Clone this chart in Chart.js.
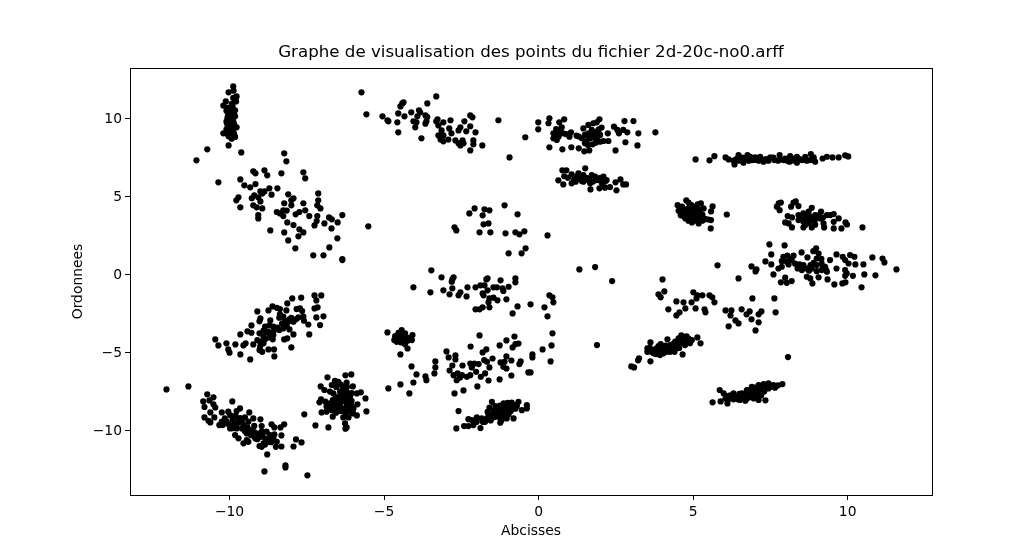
<!DOCTYPE html>
<html>
<head>
<meta charset="utf-8">
<title>2d-20c-no0</title>
<script src="https://cdn.jsdelivr.net/npm/chart.js@4/dist/chart.umd.min.js"></script>
<style>
  html, body { margin: 0; padding: 0; background: #fff; }
  canvas { display: block; }
</style>
</head>
<body>
<canvas id="chart" width="1036" height="556"></canvas>
<script>
// --- DATA ([abcisse, ordonnee]) ---
const titleText = 'Graphe de visualisation des points du fichier 2d-20c-no0.arff';
const xLabel = 'Abcisses';
const yLabel = 'Ordonnees';
const xTickValues = [-10, -5, 0, 5, 10];
const yTickValues = [-10, -5, 0, 5, 10];

const pillarTopLeft = [[-9.88,12.06],[-9.87,11.79],[-10.03,11.68],[-9.77,11.42],[-9.88,11.32],[-10.12,11.1],[-9.79,11.1],[-9.93,10.95],[-10.2,10.83],[-10.07,10.68],[-9.82,10.53],[-9.98,10.57],[-10.03,10.35],[-9.82,10.14],[-9.98,10.14],[-10.07,10.03],[-9.93,9.93],[-10.03,9.82],[-9.88,9.82],[-9.98,9.61],[-10.07,9.61],[-9.93,9.44],[-9.77,9.44],[-10.03,9.39],[-9.88,9.18],[-10.2,9.05],[-9.98,9.07],[-9.82,8.82],[-9.93,8.71],[-10.03,8.86],[-10.03,8.28],[-10,10.4],[-9.9,10.3],[-10.05,10.2],[-9.9,10.05],[-9.95,9.75],[-10.1,9.8],[-9.85,9.65],[-10,9.5],[-10.1,9.3],[-9.9,9.3],[-10,9.2],[-10.1,9.05],[-9.85,9],[-10,8.9],[-9.95,10.7],[-10.1,10.5],[-9.9,10.8],[-9.85,10.3]];

const diagonalUpperLeft = [[-10.72,8.03],[-11.07,7.32],[-9.62,7.83],[-10.36,5.91],[-8.23,7.77],[-8.16,7.26],[-9.23,6.62],[-9.16,6.49],[-8.87,6.68],[-8.78,6.36],[-8.32,6.49],[-7.61,6.55],[-7.55,6.17],[-9.65,6.1],[-9.52,5.72],[-9.33,5.59],[-9.16,5.8],[-8.71,5.53],[-8.45,5.53],[-9,5.33],[-8.87,5.33],[-8.94,5.2],[-8.64,5.12],[-8.1,5.14],[-7.13,5.2],[-9.71,4.95],[-9.78,4.76],[-9.2,5.08],[-9.28,4.89],[-9.07,4.95],[-9,4.69],[-7.93,4.89],[-8,4.76],[-8.23,4.57],[-8,4.44],[-7.61,4.57],[-7.13,4.76],[-7.16,4.44],[-7.06,4.24],[-9.65,4.31],[-9.23,4.44],[-9.12,4.31],[-8.94,4.24],[-8.26,4.12],[-8.15,4.1],[-8.47,4.01],[-7.74,4.01],[-7.55,4.12],[-9.07,3.81],[-9.07,3.6],[-8.37,3.92],[-8.26,3.75],[-7.86,3.86],[-7.42,3.75],[-7.16,3.75],[-6.78,3.66],[-6.69,3.54],[-6.35,3.81],[-8.13,3.34],[-7.93,3.17],[-7.18,3.43],[-7.25,3.15],[-6.93,3.28],[-6.5,3.34],[-6.7,2.96],[-7.74,2.9],[-7.61,2.7],[-8.68,2.83],[-8.23,2.7],[-7.77,2.45],[-8.1,2.19],[-6.51,2.32],[-6.77,1.74],[-7.87,1.68],[-7.29,1.23],[-6.96,1.23],[-6.35,0.99],[-6.35,0.93],[-5.51,3.09]];

const diagonalMidLeft = [[-7.25,-1.34],[-7.03,-1.34],[-7.97,-1.53],[-7.68,-1.48],[-7.19,-1.66],[-8.13,-1.85],[-8.61,-2.04],[-8.47,-2.13],[-8.37,-2.21],[-8.74,-2.3],[-9.1,-2.36],[-8.16,-2.3],[-7.83,-2.21],[-7.72,-2.17],[-7.65,-2.34],[-7.25,-2.17],[-7.15,-2.1],[-8.37,-2.55],[-8.26,-2.7],[-8.39,-2.77],[-8,-2.77],[-7.85,-2.87],[-7.77,-2.75],[-7.61,-2.7],[-7.59,-2.96],[-7.19,-2.75],[-6.96,-2.68],[-7.45,-3.2],[-7.07,-3.24],[-8.1,-3.02],[-7.93,-3.02],[-9,-2.81],[-9.03,-3],[-8.68,-2.94],[-9.29,-3.26],[-8.85,-3.34],[-8.71,-3.26],[-8.58,-3.34],[-8.15,-3.3],[-8.26,-3.45],[-8.39,-3.56],[-9.42,-3.64],[-9.29,-3.73],[-9.65,-3.84],[-9.03,-3.77],[-8.74,-3.67],[-8.64,-3.73],[-8.06,-3.52],[-7.93,-3.84],[-7.42,-3.84],[-8.9,-3.99],[-8.71,-4.03],[-8.58,-3.88],[-8.23,-4.16],[-8.13,-4.09],[-10.46,-4.16],[-10.36,-4.54],[-10.1,-4.41],[-9.81,-4.48],[-9.55,-4.54],[-9.48,-4.41],[-9.23,-4.48],[-9.01,-4.3],[-8.9,-4.41],[-9.01,-4.62],[-8,-4.67],[-10.04,-4.8],[-10,-5.01],[-9.65,-5.12],[-9.03,-4.84],[-8.94,-4.95],[-8.74,-4.8],[-8.56,-4.8],[-9.33,-5.44],[-8.55,-5.25],[-8.8,-3.7],[-8.9,-3.6],[-8.55,-3.55],[-8.45,-3.4],[-8.3,-3.15],[-8.2,-2.95],[-8.85,-4.15],[-9.1,-4.2],[-8.6,-4.15],[-8.05,-2.85]];

const bandBottomLeft = [[-12.04,-7.36],[-11.33,-7.17],[-10.72,-7.68],[-10.52,-7.87],[-10.65,-8.07],[-10.85,-8.13],[-10.52,-8.32],[-10.81,-8.49],[-10.46,-8.52],[-10.62,-8.84],[-10.25,-8.84],[-9.91,-8.13],[-10.49,-9.16],[-10.81,-9.16],[-10.68,-9.37],[-10.62,-9.48],[-10.04,-8.79],[-9.66,-8.58],[-9.77,-8.75],[-9.36,-8.84],[-9.98,-9.01],[-10.15,-9.22],[-9.88,-9.11],[-9.71,-9.33],[-10.25,-9.43],[-10.33,-9.65],[-10.04,-9.58],[-10.22,-9.65],[-9.88,-9.65],[-9.6,-9.43],[-9.39,-9.43],[-9.23,-9.22],[-9,-9.28],[-9.98,-9.86],[-9.77,-9.86],[-9.6,-9.86],[-9.42,-9.8],[-9.82,-10.29],[-9.71,-10.5],[-9.44,-10.18],[-9.34,-9.97],[-8.96,-9.71],[-8.64,-9.6],[-8.55,-9.8],[-8.35,-9.8],[-8.23,-9.6],[-8.8,-10.07],[-8.96,-10.07],[-8.32,-10.31],[-9.17,-10.5],[-9.44,-10.61],[-9.55,-10.82],[-9.39,-10.72],[-9,-10.4],[-8.85,-10.5],[-8.69,-10.29],[-8.58,-10.5],[-8.47,-10.72],[-8.9,-10.82],[-8.74,-10.72],[-9.03,-10.99],[-8.96,-11.04],[-8.5,-11.04],[-8.32,-11.02],[-7.93,-11.02],[-7.85,-10.57],[-7.67,-10.76],[-8.78,-11.53],[-8.87,-12.62],[-8.19,-12.23],[-8.19,-12.36],[-7.48,-12.87],[-9.9,-9.3],[-9.75,-9.55],[-9.55,-9.65],[-9.8,-9.05],[-9.5,-9.15],[-10.1,-9.4],[-9.9,-9.85],[-9.5,-10.05],[-9.2,-9.7],[-9.1,-10.2],[-8.95,-10.3],[-8.8,-10.65],[-8.65,-10.75],[-9.2,-10.1],[-9.1,-10.55],[-8.55,-10.25],[-9.3,-10.3],[-8.85,-10.9],[-8.65,-10.5],[-9.65,-9.2]];

const blobLowerLeft = [[-6.06,-6.4],[-6.25,-6.46],[-6.83,-6.59],[-6.21,-6.93],[-6.59,-6.81],[-6.48,-6.87],[-6.69,-7.08],[-7.05,-7.17],[-6.01,-7.17],[-6.93,-7.4],[-6.32,-7.19],[-5.75,-7.55],[-5.88,-7.62],[-5.6,-7.94],[-6.64,-7.62],[-6.42,-7.51],[-6.21,-7.51],[-6.1,-7.83],[-6.32,-7.83],[-6.48,-7.94],[-6.66,-8.05],[-7.04,-8],[-7.09,-8.19],[-6.75,-8.26],[-6.86,-8.47],[-6.42,-8.26],[-6.21,-8.26],[-6.05,-8.09],[-5.86,-8.32],[-5.99,-8.58],[-6.32,-8.58],[-6.53,-8.64],[-6.69,-8.69],[-7.02,-8.84],[-6.86,-8.79],[-6.1,-8.79],[-5.88,-9.03],[-5.57,-8.77],[-6.66,-9.11],[-6.32,-9.16],[-6.15,-9.16],[-6.26,-9.54],[-6.21,-9.8],[-6.25,-9.88],[-6.8,-9.8],[-7.22,-9.67],[-7.58,-8.96],[-6.4,-7.6],[-6.25,-7.7],[-6.55,-7.85],[-6.35,-8],[-6.15,-7.95],[-6.55,-8.2],[-6.3,-8.1],[-6.05,-8.4],[-6.7,-8.4],[-6.45,-8.45],[-6.2,-8.5],[-6.55,-8.85],[-6.4,-8.75],[-6.25,-8.85],[-6.15,-8.6],[-6.9,-8.15],[-6.35,-7.4],[-6.55,-7.2],[-6.4,-7.05],[-6.75,-7.5],[-6.2,-7.2],[-6.05,-7.6],[-6.6,-8.55],[-6,-8.9]];

const bandTopMiddle = [[-5.73,11.68],[-5.57,10.27],[-5.05,10.14],[-4.89,9.89],[-4.86,9.82],[-4.57,9.76],[-4.54,9.12],[-4.54,10.33],[-4.34,10.14],[-4.37,11.04],[-4.41,10.97],[-4.47,10.78],[-4.12,10.4],[-3.87,10.53],[-3.83,10.4],[-3.6,10.97],[-3.31,11.42],[-3.92,10.14],[-3.66,10.2],[-3.6,10.1],[-4.05,9.82],[-3.95,9.76],[-3.99,9.44],[-3.63,9.82],[-3.66,9.67],[-3.79,8.73],[-3.31,9.82],[-3.27,9.95],[-3.08,9.76],[-2.85,9.89],[-3.24,9.56],[-2.89,9.37],[-2.82,9.05],[-3.14,9.24],[-3.24,8.92],[-3.08,8.92],[-3.17,8.65],[-3.08,8.54],[-2.92,8.65],[-2.59,9.24],[-2.53,9.44],[-2.21,9.5],[-2.34,9.18],[-2.4,9.82],[-2.21,10.2],[-2.14,10.08],[-2.04,9.12],[-2.69,8.6],[-2.59,8.41],[-2.46,8.6],[-2.43,8.41],[-2.53,8.28],[-2.11,8.6],[-2.11,8.35],[-1.82,8.28],[-2.21,7.96],[-1.3,9.89],[-0.94,7.51],[-0.43,8.8]];

const sparseCentre = [[-1.1,4.44],[-2.07,4.24],[-1.75,4.18],[-1.59,4.12],[-2.24,3.92],[-1.81,3.8],[-0.68,3.86],[-1.78,3.22],[-1.62,3.28],[-2.72,3.03],[-2.66,2.83],[-1.91,2.71],[-1.56,2.71],[-1.07,2.64],[-0.75,2.71],[-0.62,2.58],[-0.46,2.77],[0.29,2.51],[-0.42,1.68],[-0.97,1.36],[-0.55,1.36]];

const stripCentre = [[-3.47,0.27],[-3.14,-0.18],[-2.75,-0.18],[-2.79,-0.31],[-2.81,-0.46],[-4.05,-0.82],[-3.5,-1.14],[-3.08,-1.01],[-2.79,-0.88],[-2.88,-1.27],[-2.53,-1.14],[-2.59,-1.33],[-2.3,-0.82],[-2.33,-1.4],[-2.04,-0.82],[-1.88,-0.69],[-1.75,-0.69],[-1.65,-0.24],[-1.69,-0.31],[-1.23,-0.37],[-0.75,-0.24],[-0.75,-0.5],[-1.65,-1.01],[-1.81,-1.2],[-1.78,-1.33],[-1.46,-0.82],[-1.35,-0.82],[-1.17,-0.88],[-0.97,-0.78],[-1.14,-1.05],[-1.59,-1.52],[-1.46,-1.48],[-1.33,-1.65],[-1.62,-1.78],[-1.04,-1.59],[-2.04,-2.23],[-1.91,-2.23],[-1.81,-2.1],[-1.59,-2.1],[-0.68,-2.04],[-0.26,-1.91],[-0.84,-2.49],[0.19,-2.1],[0.29,-2.68],[0.35,-1.33],[0.45,-1.46],[0.48,-1.78]];

const knotNearMinusFour = [[-4.89,-3.71],[-4.43,-3.56],[-4.53,-3.73],[-4.32,-3.77],[-4.08,-3.88],[-4.64,-3.95],[-4.48,-3.99],[-4.67,-4.2],[-4.53,-4.24],[-4.37,-4.2],[-4.1,-4.2],[-4.24,-4.24],[-4.59,-4.31],[-4.32,-4.46],[-4.24,-4.74],[-4.47,-5.12],[-4.6,-4.05],[-4.45,-4.15],[-4.4,-3.85],[-4.55,-3.85],[-4.3,-4.1],[-4.2,-4.05],[-4.45,-4.35],[-4.35,-4.35],[-4.5,-4.1],[-4.62,-4.15]];

const scatterLowerCentre = [[-4.11,-5.89],[-3.95,-6.4],[-3.66,-6.53],[-3.63,-6.77],[-4.05,-6.92],[-4.47,-7.04],[-4.86,-7.3],[-4.18,-7.62],[-3.34,-5.57],[-3.34,-5.95],[-3.37,-6.34],[-2.98,-4.93],[-2.91,-5.31],[-2.69,-5.18],[-2.69,-5.44],[-2.79,-5.83],[-2.88,-6.15],[-2.46,-5.83],[-2.2,-4.61],[-1.91,-3.9],[-1.26,-4.54],[-1.04,-4.22],[-0.78,-3.97],[-0.65,-4.42],[-0.75,-4.46],[-0.84,-4.67],[-1.69,-4.8],[-1.81,-4.99],[0.45,-3.77],[0.42,-4.54],[0.13,-4.8],[-0.2,-5.12],[-0.2,-5.31],[0.39,-5.57],[-1.49,-5.38],[-1.04,-5.25],[-0.88,-5.51],[-0.58,-5.57],[-0.62,-5.74],[-1.23,-5.63],[-1.1,-5.59],[-1.14,-5.91],[-1.04,-6.02],[-1.76,-5.48],[-1.67,-5.59],[-1.59,-5.95],[-2.21,-5.7],[-2.08,-5.7],[-1.94,-5.74],[-2.16,-5.95],[-2.02,-6.23],[-1.73,-6.34],[-1.87,-6.55],[-1.62,-6.79],[-1.26,-6.72],[-0.88,-6.47],[-0.33,-6.27],[-0.26,-6.27],[-2.75,-6.45],[-2.62,-6.34],[-2.48,-6.45],[-2.32,-6.55],[-2.21,-6.45],[-2.65,-6.77],[-2.54,-6.6],[-2.43,-7.43],[-2.72,-7.62],[-1.98,-7.17],[-2.59,-8.75],[-2.66,-9.86]];

const bandBottomCentre = [[-1.51,-8.16],[-1.59,-8.52],[-1.65,-8.8],[-1.4,-8.43],[-1.46,-8.73],[-1.3,-8.58],[-1.13,-8.26],[-1,-8.22],[-0.87,-8.2],[-0.65,-8.16],[-1.19,-8.52],[-1.03,-8.52],[-0.87,-8.52],[-0.7,-8.43],[-0.54,-8.69],[-0.38,-8.37],[-0.38,-8.58],[-1.3,-8.9],[-1.13,-8.8],[-0.97,-8.95],[-0.81,-9.22],[-1.51,-9.01],[-1.4,-9.12],[-1.24,-9.22],[-1.03,-9.22],[-1.67,-9.22],[-1.84,-9.22],[-2,-9.16],[-2.27,-9.27],[-2.16,-9.33],[-2,-9.44],[-1.73,-9.44],[-2.11,-9.65],[-2.27,-9.71],[-2.41,-9.71],[-1.88,-9.84],[-1.24,-9.5],[-1.62,-8.97],[-1.3,-8.75],[-1.2,-8.9],[-1.05,-8.65],[-0.9,-8.75],[-1.35,-9.05],[-1.1,-9.05],[-1.5,-9.2],[-1.6,-9.1],[-1.45,-8.9],[-0.8,-8.35],[-1.05,-8.35],[-1.25,-8.4],[-0.75,-8.6],[-1.2,-9.35],[-1.8,-9.45],[-2.1,-9.4],[-1.55,-9.35]];

const bandUpperCentre = [[-0.01,9.76],[-0.01,9.31],[0.35,10.02],[0.32,9.7],[0.67,9.76],[0.83,9.95],[0.75,9.44],[0.57,9.33],[0.48,9.05],[0.64,9.05],[0.48,8.73],[0.59,8.63],[0.35,8.16],[0.77,8.03],[0.8,9.05],[1.05,9.12],[1,8.84],[1.23,8.9],[1.06,8.16],[1.3,8.09],[1.48,7.9],[1.64,7.96],[1.45,9.37],[1.61,9.59],[1.77,9.7],[1.97,9.95],[1.88,9.76],[2.04,9.42],[1.4,8.73],[1.5,8.95],[1.61,9.05],[1.72,9.27],[1.88,9.16],[1.99,8.95],[1.67,8.73],[1.83,8.73],[1.5,8.41],[1.75,8.35],[1.99,8.52],[2.1,8.56],[2.24,9.05],[2.26,8.56],[2.44,9.48],[2.55,9.27],[2.6,9.05],[2.74,9.27],[2.87,9.12],[2.78,9.84],[3.07,9.84],[3.23,9.05],[2.81,8.48],[3.2,8.28],[2.49,7.96],[3.78,9.12],[1.55,8.55],[1.65,8.9],[1.8,8.95],[1.9,8.6],[1.95,9.3],[1.75,9.05],[1.6,8.3],[0.65,8.85],[0.55,8.9],[1.85,8.45],[1.3,8.85],[0.7,9.25],[0.9,9]];

const stripUnderBand = [[0.77,6.68],[0.9,6.68],[1.51,6.81],[0.83,6.3],[1.07,6.43],[0.64,6.04],[0.8,5.78],[1.07,5.85],[1.29,6.49],[1.29,6.17],[1.45,6.38],[1.4,6],[1.56,6.06],[1.72,6.38],[1.83,6.28],[1.94,6.06],[2.1,6.28],[1.67,5.85],[1.68,5.46],[1.97,5.53],[2.15,5.96],[2.15,5.57],[2.31,5.61],[2.49,5.91],[2.65,6.1],[2.52,5.4],[2.74,5.78],[2.83,5.78],[1.15,6.1],[1.25,6.3],[1.35,6.15],[1.55,6.2],[1.65,6.1],[1.85,6.05],[2,6.2],[1.45,5.95],[1.75,5.95],[2.05,5.85],[1.2,5.95],[2.2,6.05],[0.95,6.2]];

const flatStripRight = [[5.08,7.38],[5.53,7.32],[5.69,7.59],[6.05,7.51],[6.15,7.38],[6.34,7.06],[6.47,7.66],[6.31,7.3],[6.58,7.34],[6.76,7.66],[6.69,7.44],[6.85,7.55],[7.01,7.51],[7.17,7.55],[7.33,7.38],[7.5,7.51],[7.63,7.34],[7.8,7.66],[7.82,7.38],[7.98,7.44],[8.14,7.59],[8.12,7.23],[8.36,7.17],[8.36,7.55],[8.52,7.34],[8.63,7.55],[8.81,7.72],[8.79,7.34],[8.95,7.23],[8.9,7.51],[9.19,7.44],[9.33,7.55],[9.51,7.51],[9.71,7.51],[9.92,7.64],[10.02,7.57],[6.9,7.34],[7.12,7.3],[7.28,7.23],[7.44,7.3],[7.93,7.34],[8.25,7.44],[8.68,7.3],[6.63,7.17],[6.4,7.4],[6.5,7.3],[6.8,7.3],[7,7.35],[7.2,7.4],[7.4,7.4],[7.6,7.5],[7.75,7.3],[8.05,7.3],[8.2,7.3],[8.45,7.4],[8.6,7.35],[8.9,7.35],[6.6,7.5],[6.95,7.45]];

const knotNearFive = [[4.5,4.45],[4.78,4.75],[4.85,4.62],[4.64,4.35],[4.53,4.09],[5.25,4.56],[5.63,4.37],[5.58,4.05],[5.34,4.24],[5.02,4.24],[4.85,4.24],[4.75,4.03],[4.91,3.92],[5.12,4.03],[5.23,3.92],[4.69,3.75],[4.85,3.6],[5.07,3.71],[5.28,3.6],[5.5,3.53],[5.58,3.49],[4.96,3.34],[5.18,3.28],[5.57,2.96],[6.09,3.85],[5.01,3.49],[4.96,4.03],[4.8,3.81],[4.7,4.2],[4.9,4.4],[5.1,4.35],[4.6,3.95],[4.85,4.05],[5.05,4.1],[5.2,4.15],[4.95,3.85],[5.1,3.85],[5.3,3.85],[4.75,3.85],[4.6,3.8],[4.9,3.7],[5.2,3.7],[5.35,3.6],[4.75,3.6],[5,3.6],[5.1,3.45],[4.85,3.45],[5.3,3.45],[4.95,4.45],[5.15,4.5],[5.4,3.55]];

const bandUpperRight = [[7.77,4.56],[7.84,4.62],[7.71,4.35],[7.8,4.13],[8.25,4.62],[8.32,4.69],[8.17,4.35],[8.41,4.39],[8.84,4.28],[8.06,3.75],[8.2,3.66],[8.41,3.81],[8.57,3.92],[8.74,4.03],[8.95,3.81],[9.14,4.03],[9.33,3.81],[9.55,3.88],[7.98,3.34],[8.09,3.28],[8.2,3.02],[8.41,3.49],[8.57,3.38],[8.68,3.6],[8.84,3.49],[9.11,3.6],[9.22,3.28],[9.24,3.02],[9.55,3.38],[9.55,2.96],[9.71,3.6],[9.93,3.34],[9.98,3.21],[9.8,2.96],[10.48,3.02],[8.57,3.02],[8.84,3.02],[8.63,3.17],[9.44,3.81],[8.65,3.75],[8.8,3.7],[8.95,3.55],[9.05,3.8],[9.2,3.65],[8.5,3.55],[8.75,3.3],[8.95,3.2]];

const cloudRight = [[5.79,0.59],[6.47,-0.25],[6.89,0.52],[7.05,0.33],[7.02,0.2],[7.47,1.93],[7.96,1.87],[7.53,1.29],[7.34,0.84],[7.53,0.65],[7.6,0.01],[7.92,1.14],[8.05,1.21],[7.87,0.86],[8.03,0.82],[8.25,1.21],[8.19,0.93],[8.51,1.42],[7.76,0.39],[7.87,0.5],[8.09,0.65],[7.84,-0.5],[7.98,-0.2],[8.03,-0.53],[8.19,-0.42],[8.7,1.1],[8.98,1.68],[8.89,1.5],[9.06,1.35],[9,1.03],[8.44,0.65],[8.38,0.39],[8.57,0.61],[8.68,0.39],[8.84,0.39],[8.52,0.29],[9,0.61],[9.16,0.71],[9.27,0.5],[9,0.22],[9.16,0.29],[9.33,0.18],[8.68,-0.14],[8.79,-0.25],[8.86,-0.57],[9.06,-0.18],[9.35,-0.31],[9.57,-0.63],[9.83,-0.57],[9.93,-0.5],[10.45,-0.82],[9.64,1.29],[9.64,0.39],[9.43,0.93],[9.84,1.14],[10.08,1.25],[10.22,1.14],[9.92,0.93],[10.03,0.71],[10.25,0.65],[9.92,0.29],[9.97,0.07],[9.92,-0.08],[10.17,-0.08],[10.51,0.65],[10.54,0.01],[10.9,-0.05],[10.8,1.1],[11.13,1.03],[11.19,0.78],[11.58,0.33],[8.8,0.6],[8.9,0.75],[8.75,0.25],[9.15,1],[9.2,0.45],[9.3,0.3],[8.15,1],[8.3,0.7]];

const sparseMidRight = [[4.01,-0.31],[4.07,-1.08],[3.88,-1.27],[3.95,-1.46],[5.01,-1.14],[5.3,-1.33],[5.53,-1.33],[5.62,-1.46],[5.69,-1.78],[5.11,-1.53],[5.14,-1.33],[4.95,-1.78],[4.69,-1.78],[4.46,-1.72],[4.75,-2.17],[5.08,-2.17],[4.2,-2.23],[4.56,-2.42],[4.46,-2.62],[5.37,-2.23],[5.4,-2.42],[6.92,-1.53],[7.63,-1.53],[6.05,-2.3],[6.24,-2.3],[6.21,-2.62],[6.57,-2.23],[6.83,-2.36],[6.73,-2.55],[7.21,-2.36],[7.12,-2.55],[7.67,-2.42],[6.37,-2.94],[6.47,-3.13],[6.89,-2.87],[7.12,-3.06],[6.15,-3.32],[7.02,-3.58]];

const streakNearFour = [[5.14,-4.03],[5.24,-4.41],[4.62,-3.9],[4.79,-3.96],[4.53,-4.09],[4.69,-4.15],[4.17,-4.15],[3.62,-4.35],[4.96,-4.2],[4.42,-4.3],[4.58,-4.41],[4.74,-4.52],[4.26,-4.52],[4.42,-4.62],[3.88,-4.58],[4.04,-4.73],[3.52,-4.73],[3.52,-4.95],[3.72,-4.84],[3.88,-4.95],[4.04,-5.05],[4.26,-4.95],[4.66,-5.12],[3.72,-5.05],[3.93,-5.16],[3.62,-5.56],[3.25,-5.37],[3.22,-5.5],[3,-5.89],[3.09,-5.95],[3.6,-4.7],[3.8,-4.75],[3.95,-4.8],[4.15,-4.75],[4.3,-4.7],[4.5,-4.55],[4.65,-4.35],[4.8,-4.25],[4.9,-4.4],[4.55,-4.2],[4.35,-4.45],[3.65,-4.95],[3.8,-5.1],[4,-4.95],[4.15,-4.95],[4.4,-4.85],[4.55,-4.7],[3.55,-4.85],[4.7,-4],[4.85,-4.1],[4.4,-4.95],[3.95,-4.45],[4.1,-4.55]];

const streakLowerRight = [[5.63,-8.19],[5.89,-8.13],[6.11,-8.26],[5.86,-7.4],[5.99,-7.62],[6.09,-7.79],[6.31,-7.62],[6.42,-7.83],[6.31,-8],[6.52,-8.04],[6.69,-8.09],[6.58,-7.62],[6.74,-7.4],[6.9,-7.19],[6.79,-7.72],[6.96,-7.62],[7.12,-7.08],[7.28,-7.02],[7.44,-6.97],[7.6,-7.08],[7.12,-7.44],[7.28,-7.3],[7.44,-7.3],[6.96,-7.94],[7.12,-8.04],[7.34,-8.06],[7.89,-7.02],[6.52,-7.79],[6.69,-7.83],[6.85,-7.62],[7.06,-7.72],[6.2,-7.75],[6.35,-7.9],[6.5,-7.65],[6.65,-7.7],[6.75,-7.95],[6.85,-7.85],[6.95,-7.75],[7,-7.45],[7.1,-7.6],[7.2,-7.75],[7.2,-7.2],[7.35,-7.15],[7.5,-7.2],[7.3,-7.5],[7.65,-7.25],[6.85,-7.4],[7,-7.25],[6.6,-7.9],[6.45,-8],[6.05,-7.95],[7.75,-7.1],[6.2,-7.95]];

const strayPoints = [[8.07,-5.29],[1.32,0.33],[1.83,0.48],[2.38,-0.42],[1.89,-4.52]];

const clusters = [pillarTopLeft, diagonalUpperLeft, diagonalMidLeft, bandBottomLeft, blobLowerLeft, bandTopMiddle, sparseCentre, stripCentre, knotNearMinusFour, scatterLowerCentre, bandBottomCentre, bandUpperCentre, stripUnderBand, flatStripRight, knotNearFive, bandUpperRight, cloudRight, sparseMidRight, streakNearFour, streakLowerRight, strayPoints];

// --- CHART ---
Chart.defaults.font.family = '"DejaVu Sans", sans-serif';
Chart.defaults.color = '#000';

const tickLabel = v => String(v).replace('-', '\u2212');

// axes box on all four sides, like the matplotlib frame
const frame = {
    id: 'frame',
    afterDraw(chart) {
        const { ctx, chartArea: a } = chart;
        ctx.save();
        ctx.strokeStyle = '#000';
        ctx.lineWidth = 1;
        ctx.strokeRect(a.left + 0.5, a.top + 0.5, a.right - a.left, a.bottom - a.top);
        ctx.restore();
    }
};

new Chart(document.getElementById('chart'), {
    type: 'scatter',
    data: {
        datasets: clusters.map(c => ({
            data: c.map(p => ({ x: p[0], y: p[1] })),
            pointRadius: 3.1,
            pointBorderWidth: 0,
            pointBackgroundColor: '#000'
        }))
    },
    options: {
        responsive: false,
        animation: false,
        layout: { padding: { left: 70, right: 104, top: 0, bottom: 16 } },
        plugins: {
            legend: { display: false },
            tooltip: { enabled: false },
            title: {
                display: true,
                text: titleText,
                fullSize: false,
                color: '#000',
                font: { size: 16.67, weight: 'normal' },
                padding: { top: 43, bottom: 5 }
            }
        },
        scales: {
            x: {
                min: -13.22, max: 12.73,
                afterBuildTicks: axis => { axis.ticks = xTickValues.map(v => ({ value: v })); },
                afterFit: axis => { axis.height = 45; },
                ticks: { font: { size: 13.89 }, color: '#000', maxRotation: 0, padding: 4, callback: tickLabel },
                grid: { drawOnChartArea: false, color: '#000', tickLength: 5, tickColor: '#000' },
                border: { color: '#000' },
                title: { display: true, text: xLabel, color: '#000', font: { size: 13.89 }, padding: { top: 6, bottom: 0 } }
            },
            y: {
                min: -14.13, max: 13.24,
                afterBuildTicks: axis => { axis.ticks = yTickValues.map(v => ({ value: v })); },
                afterFit: axis => { axis.width = 60; },
                ticks: { font: { size: 13.89 }, color: '#000', padding: 3, labelOffset: 1, callback: tickLabel },
                grid: { drawOnChartArea: false, color: '#000', tickLength: 5, tickColor: '#000' },
                border: { color: '#000' },
                title: { display: true, text: yLabel, color: '#000', font: { size: 13.89 }, padding: { top: 0, bottom: 6 } }
            }
        }
    },
    plugins: [frame]
});
</script>
</body>
</html>
